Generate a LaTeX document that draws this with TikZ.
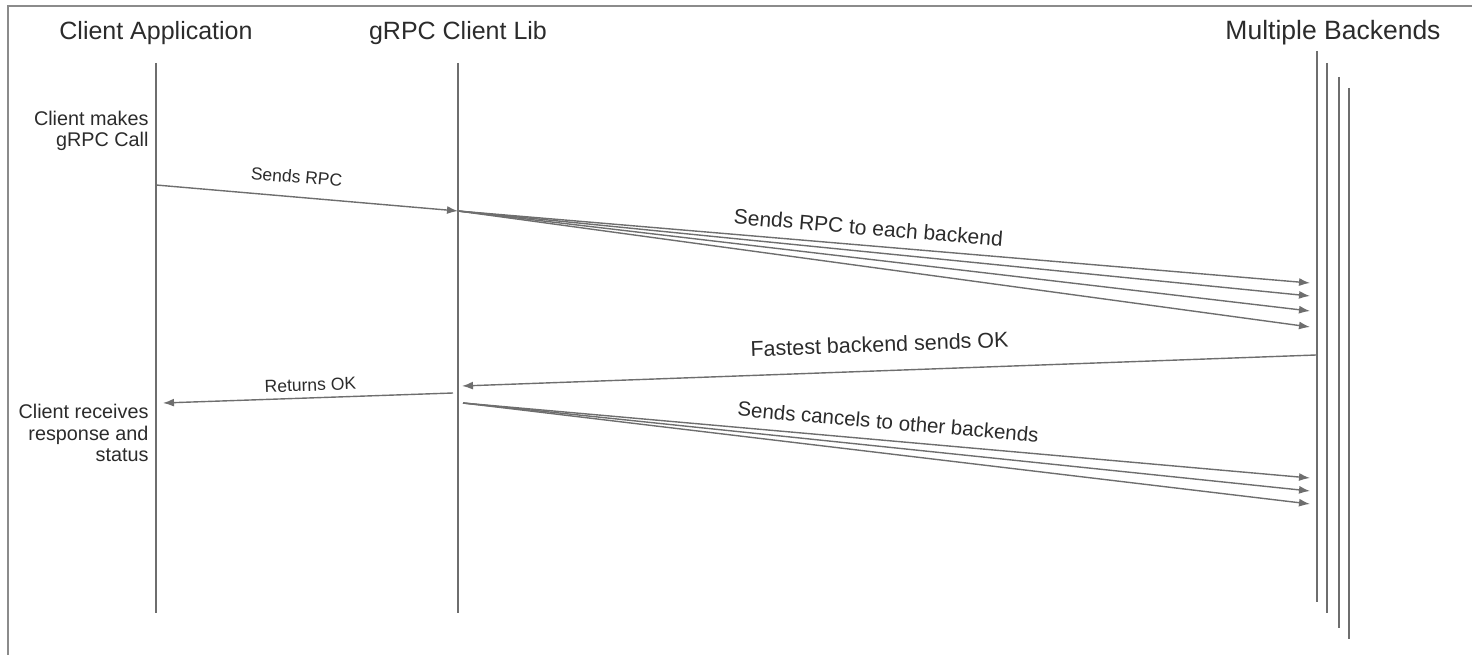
\documentclass[tikz,border=0pt]{standalone}
\usepackage{fontspec}
\setmainfont{Liberation Sans}
\usetikzlibrary{arrows.meta}
\definecolor{linegray}{HTML}{6E6E6E}
\definecolor{textgray}{HTML}{2B2B2B}
\tikzset{
  lifeline/.style={line width=1.7pt, linegray},
  msg/.style={line width=1.4pt, linegray, -{Latex[length=11pt,width=8pt]}},
  msglabel/.style={above, sloped, textgray, font=\fontsize{17.5}{20}\selectfont, inner sep=4pt},
  header/.style={textgray, font=\fontsize{25}{30}\selectfont},
  note/.style={textgray, font=\fontsize{19.8}{21.5}\selectfont, align=right, anchor=east}
}
\begin{document}
\begin{tikzpicture}[x=1pt, y=-1pt]
  \useasboundingbox (0,0) rectangle (1472,655);
  % frame, open at the bottom and right
  \draw[line width=2pt, linegray!80] (8,655) -- (8,6) -- (1472,6);

  % participants
  \node[header] (app) at (156,33) {Client Application};
  \node[header] (lib) at (458,33) {gRPC Client Lib};
  \node[header, font=\fontsize{26.5}{30}\selectfont] (be) at (1333,33) {Multiple Backends};

  % lifelines
  \coordinate (appT) at (156,63);
  \coordinate (appB) at (156,613);
  \coordinate (libT) at (458,63);
  \coordinate (libB) at (458,613);
  \draw[lifeline] (appT) -- (appB);
  \draw[lifeline] (libT) -- (libB);
  \foreach \i/\x/\t/\b in {1/1317/51/602, 2/1327/63/613, 3/1339/77/628, 4/1349/88/639} {
    \coordinate (be\i T) at (\x,\t);
    \coordinate (be\i B) at (\x,\b);
    \draw[lifeline] (be\i T) -- (be\i B);
  }

  % client call
  \node[note] (callnote) at (152,131) {Client makes\\gRPC Call};
  \coordinate (call) at (156,185);
  \coordinate (libIn) at (458,211);
  \draw[msg] (call) -- node[msglabel, pos=0.46, yshift=9pt] {Sends RPC} (libIn);

  % fan out to every backend
  \foreach \y [count=\k] in {283,296,311,327} {
    \coordinate (fan\k) at (1310,\y);
    \draw[msg] (libIn) -- (fan\k);
  }
  \path (libIn) -- node[msglabel, pos=0.48, yshift=6pt, font=\fontsize{21}{24}\selectfont] {Sends RPC to each backend} (fan1);

  % first answer
  \coordinate (okOut) at (1316,355);
  \coordinate (okIn) at (462,386);
  \draw[msg] (okOut) -- node[msglabel, pos=0.51, yshift=14pt, font=\fontsize{21.5}{24}\selectfont] {Fastest backend sends OK} (okIn);

  \coordinate (retOut) at (453,393);
  \coordinate (retIn) at (163,403);
  \draw[msg] (retOut) -- node[msglabel, pos=0.49, yshift=2pt] {Returns OK} (retIn);
  \node[note] (recvnote) at (152,433) {Client receives\\response and\\status};

  % cancel the rest
  \coordinate (cancel) at (463,403);
  \foreach \y [count=\k] in {478,491,504} {
    \coordinate (stop\k) at (1310,\y);
    \draw[msg] (cancel) -- (stop\k);
  }
  \path (cancel) -- node[msglabel, pos=0.5, yshift=7pt, font=\fontsize{20.5}{24}\selectfont] {Sends cancels to other backends} (stop1);
\end{tikzpicture}
\end{document}
